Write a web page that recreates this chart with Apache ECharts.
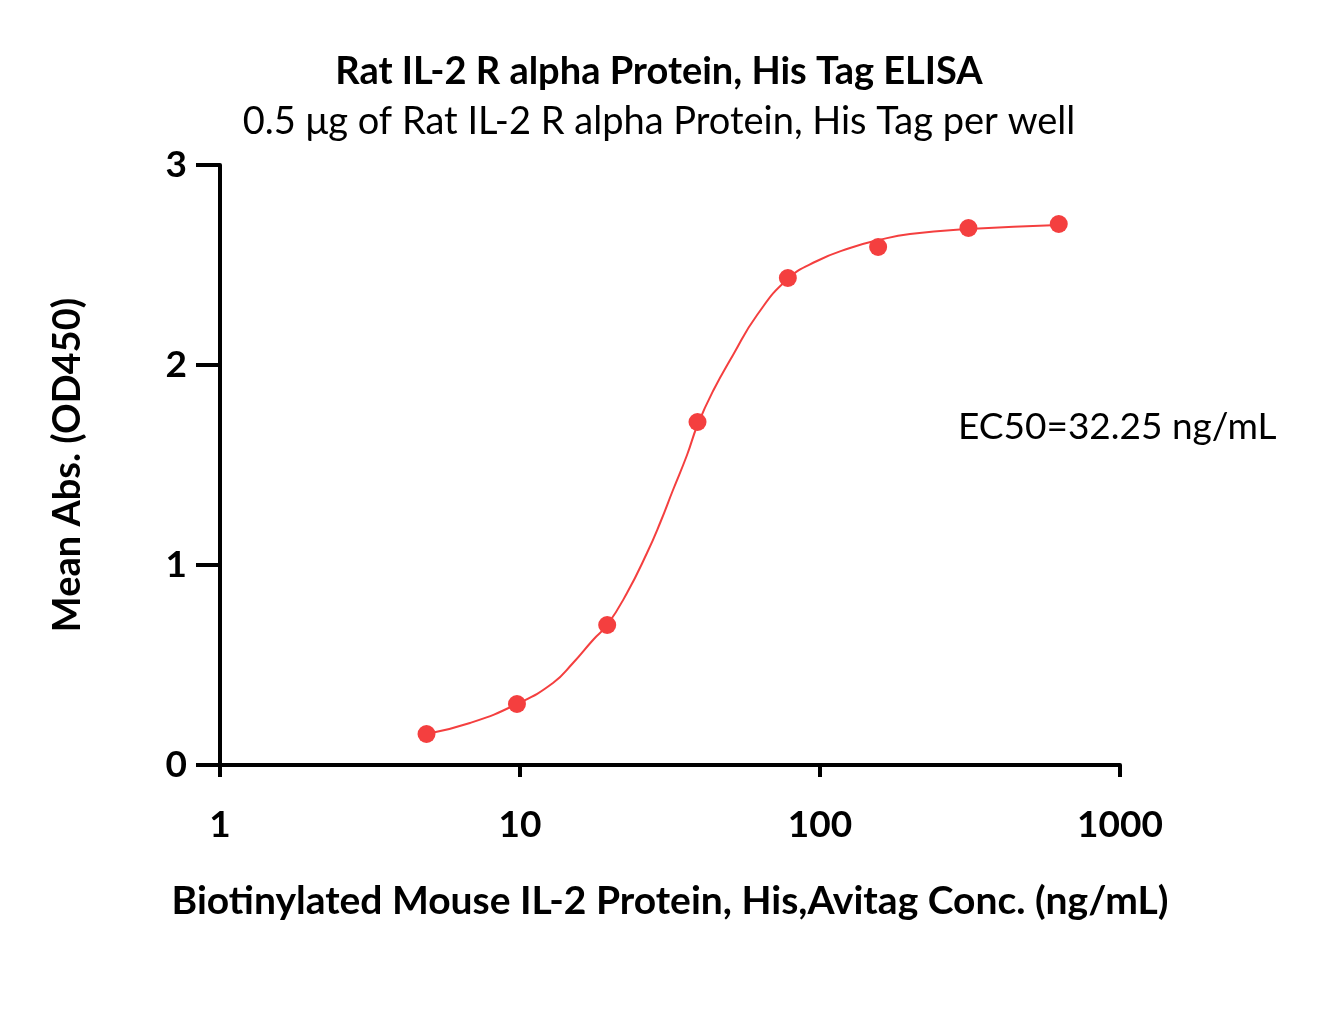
<!DOCTYPE html>
<html>
<head>
<meta charset="utf-8">
<script src="https://cdn.jsdelivr.net/npm/echarts@6/dist/echarts.min.js"></script>
<style>
  html, body { margin: 0; padding: 0; background: #fff; }
  #chart { width: 1318px; height: 1020px; }
</style>
</head>
<body>
<div id="chart"></div>
<script>
// measured points (ng/mL, OD450)
const concentrations = [4.88, 9.77, 19.53, 39.06, 78.13, 156.25, 312.5, 625];
const meanAbs = [0.155, 0.305, 0.70, 1.715, 2.435, 2.59, 2.685, 2.705];

// fitted curve
const curveX = [4.88, 6.81, 9.77, 12.88, 15.02, 17.51, 19.53, 22.73, 26.5, 29.3, 32.36, 36.04,
    39.06, 44.0, 51.3, 61.7, 78.13, 97.7, 125.9, 157.3, 199.5, 312.5, 625];
const curveY = [0.155, 0.21, 0.305, 0.41, 0.51, 0.625, 0.70, 0.86, 1.06, 1.21, 1.375, 1.55,
    1.70, 1.87, 2.05, 2.25, 2.43, 2.52, 2.585, 2.625, 2.655, 2.68, 2.70];

// tick labels on the concentration axis
const xTickLabels = { 1: '1', 10: '10', 100: '100', 1000: '1000' };

const RED = '#f43f3f';
const FONT = 'Lato';
const FS = 38;

const chart = echarts.init(document.getElementById('chart'));

chart.setOption({
    animation: false,
    backgroundColor: '#fff',
    title: [{
        text: 'Rat IL-2 R alpha Protein, His Tag ELISA',
        left: 'center',
        top: 48,
        textStyle: { fontFamily: FONT, fontWeight: 'bold', fontSize: FS, color: '#000' }
    }, {
        text: '0.5 μg of Rat IL-2 R alpha Protein, His Tag per well',
        left: 'center',
        top: 98,
        textStyle: { fontFamily: FONT, fontWeight: 'normal', fontSize: FS, color: '#000' }
    }],
    graphic: [{
        type: 'text',
        left: 958,
        top: 409,
        style: { text: 'EC50=32.25 ng/mL', font: '37px ' + FONT, fill: '#000' }
    }],
    grid: { left: 220, right: 198, top: 165, bottom: 255 },
    xAxis: {
        type: 'log',
        logBase: 10,
        min: 1,
        max: 1000,
        name: 'Biotinylated Mouse IL-2 Protein, His,Avitag Conc. (ng/mL)',
        nameLocation: 'middle',
        nameGap: 117,
        nameTextStyle: { fontFamily: FONT, fontWeight: 'bold', fontSize: 39, color: '#000' },
        axisLine: { lineStyle: { color: '#000', width: 4 } },
        axisTick: { length: 12, lineStyle: { color: '#000', width: 4 } },
        minorTick: { show: false },
        splitLine: { show: false },
        axisLabel: {
            fontFamily: FONT, fontWeight: 'bold', fontSize: 37, color: '#000', margin: 42,
            formatter: (v) => xTickLabels[Math.round(v)] || ''
        }
    },
    yAxis: {
        type: 'value',
        min: 0,
        max: 3,
        interval: 1,
        name: 'Mean Abs. (OD450)',
        nameLocation: 'middle',
        nameGap: 133,
        nameTextStyle: { fontFamily: FONT, fontWeight: 'bold', fontSize: FS, color: '#000' },
        axisLine: { show: true, lineStyle: { color: '#000', width: 4 } },
        axisTick: { show: true, length: 24, lineStyle: { color: '#000', width: 4 } },
        splitLine: { show: false },
        axisLabel: { fontFamily: FONT, fontWeight: 'bold', fontSize: 37, color: '#000', margin: 33 }
    },
    series: [{
        name: 'fit',
        type: 'line',
        data: curveX.map((x, i) => [x, curveY[i]]),
        smooth: 0.5,
        showSymbol: false,
        lineStyle: { color: RED, width: 2 },
        z: 2
    }, {
        name: 'data',
        type: 'scatter',
        data: concentrations.map((x, i) => [x, meanAbs[i]]),
        symbolSize: 18,
        itemStyle: { color: RED, opacity: 1 },
        z: 3
    }]
});
</script>
</body>
</html>
